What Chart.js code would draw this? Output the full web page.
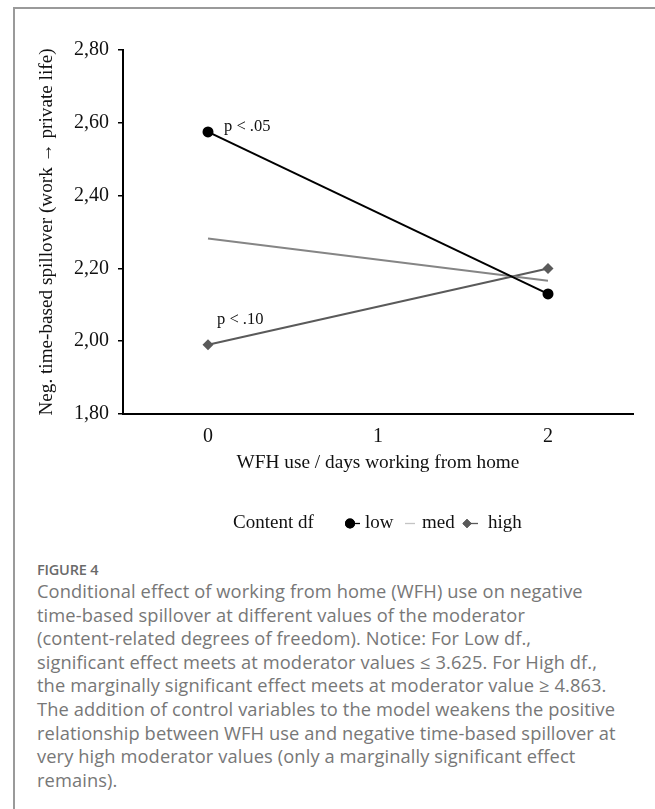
<!DOCTYPE html>
<html>
<head>
<meta charset="utf-8">
<script src="https://cdn.jsdelivr.net/npm/chart.js@4"></script>
<style>
  html, body { margin: 0; padding: 0; background: #fff; }
  body { width: 655px; height: 809px; position: relative; overflow: hidden; }
  .frame { position: absolute; left: 13px; top: 7px; right: -10px; bottom: -10px;
           border-top: 2px solid #9a9a9a; border-left: 2px solid #9a9a9a; }
  .plot { position: absolute; left: 0; top: 0; width: 655px; height: 550px; }
  .caption { position: absolute; left: 37px; top: 560px; color: #777;
             font-family: "Open Sans", Lato, sans-serif; white-space: nowrap; }
  .caption .fig { font-size: 14.5px; font-weight: 600; color: #6a6a6a; letter-spacing: -0.2px; margin-bottom: 0px; }
  .caption .txt { font-size: 18.3px; line-height: 23.6px; letter-spacing: 0.1px; }
</style>
</head>
<body>
<div class="frame"></div>
<div class="plot"><canvas id="c" width="655" height="550"></canvas></div>
<div class="caption">
  <div class="fig">FIGURE 4</div>
  <div class="txt">Conditional effect of working from home (WFH) use on negative<br>time-based spillover at different values of the moderator<br>(content-related degrees of freedom). Notice: For Low df.,<br>significant effect meets at moderator values &le; 3.625. For High df.,<br>the marginally significant effect meets at moderator value &ge; 4.863.<br>The addition of control variables to the model weakens the positive<br>relationship between WFH use and negative time-based spillover at<br>very high moderator values (only a marginally significant effect<br>remains).</div>
</div>
<script>
// data
const xLabels = ['0', '1', '2'];
const lowVals  = [2.575, null, 2.13];
const medVals  = [2.282, null, 2.166];
const highVals = [1.99, null, 2.20];
const seriesNames = ['low', 'med', 'high'];
const yTicks = { min: 1.8, max: 2.8, step: 0.2 };
const notes = [
    { text: 'p < .05', series: 0, index: 0, dx: 16, dy: -5 },
    { text: 'p < .10', series: 2, index: 0, dx: 9, dy: -25 }
];

const SERIF = "'Liberation Serif', 'Times New Roman', serif";

// p-value labels next to points
const notePlugin = {
    id: 'notes',
    afterDatasetsDraw(chart) {
        const ctx = chart.ctx, xs = chart.scales.x, ys = chart.scales.y;
        ctx.save();
        ctx.font = '16.5px ' + SERIF;
        ctx.fillStyle = '#111';
        ctx.textAlign = 'left';
        ctx.textBaseline = 'middle';
        notes.forEach(function(n) {
            const v = chart.data.datasets[n.series].data[n.index];
            ctx.fillText(n.text, xs.getPixelForValue(n.index) + n.dx, ys.getPixelForValue(v) + n.dy);
        });
        ctx.restore();
    }
};

// inline legend: "Content df  ●- low  — med ◆- high"
const legendPlugin = {
    id: 'inlineLegend',
    afterDraw(chart) {
        const ctx = chart.ctx;
        const y = 523;
        ctx.save();
        ctx.font = '19px ' + SERIF;
        ctx.fillStyle = '#111';
        ctx.textBaseline = 'middle';
        ctx.textAlign = 'left';
        ctx.fillText('Content df', 233, y);
        const spots = [{ mark: 350, seg: [346, 360], text: 365, color: '#000' },
                       { mark: null, seg: [405, 415], text: 422, color: '#c4c4c4' },
                       { mark: 467, seg: [463, 478], text: 488, color: '#5a5a5a' }];
        chart.data.datasets.forEach(function(ds, i) {
            const s = spots[i];
            ctx.strokeStyle = s.color;
            ctx.lineWidth = 1.3;
            ctx.beginPath();
            ctx.moveTo(s.seg[0], y + 0.5);
            ctx.lineTo(s.seg[1], y + 0.5);
            ctx.stroke();
            if (s.mark !== null) {
                Chart.helpers.drawPoint(ctx, {
                    pointStyle: ds.pointStyle, radius: i === 0 ? 5 : 4.5, rotation: 0, borderWidth: 0
                }, s.mark, y + 0.5);
                ctx.fillStyle = ds.pointBackgroundColor;
                ctx.fill();
            }
            ctx.fillStyle = '#111';
            ctx.fillText(seriesNames[i], s.text, y);
        });
        ctx.restore();
    }
};

new Chart(document.getElementById('c').getContext('2d'), {
    type: 'line',
    data: {
        labels: xLabels,
        datasets: [
            { label: seriesNames[0], data: lowVals, borderColor: '#000', borderWidth: 2,
              pointStyle: 'circle', pointRadius: [5.5, 0, 5.5], pointBackgroundColor: '#000', pointBorderWidth: 0, spanGaps: true },
            { label: seriesNames[1], data: medVals, borderColor: '#858585', borderWidth: 2,
              pointRadius: 0, pointBackgroundColor: '#858585', spanGaps: true },
            { label: seriesNames[2], data: highVals, borderColor: '#5a5a5a', borderWidth: 2,
              pointStyle: 'rectRot', pointRadius: [5.5, 0, 5.5], pointBackgroundColor: '#5a5a5a', pointBorderWidth: 0, spanGaps: true }
        ]
    },
    options: {
        responsive: false,
        animation: false,
        layout: { padding: { top: 50, left: 31, right: 22, bottom: 71 } },
        plugins: { legend: { display: false }, tooltip: { enabled: false } },
        scales: {
            x: {
                offset: true,
                grid: { display: false, drawTicks: false },
                border: { color: '#000', width: 2 },
                ticks: { color: '#111', font: { family: SERIF, size: 20 }, padding: 11 },
                title: { display: true, text: 'WFH use / days working from home', color: '#111',
                         font: { family: SERIF, size: 19.3 } },
                afterFit: function(s) { s.height = 65; }
            },
            y: {
                min: yTicks.min, max: yTicks.max,
                grid: { drawOnChartArea: false, drawTicks: true, tickLength: 5, color: '#000', lineWidth: 1.5 },
                border: { color: '#000', width: 2 },
                ticks: { stepSize: yTicks.step, color: '#111', padding: 9,
                         font: { family: SERIF, size: 20 },
                         callback: function(v) { return v.toFixed(2).replace('.', ','); } },
                title: { display: true, text: 'Neg. time-based spillover (work \u2192 private life)', color: '#111',
                         font: { family: SERIF, size: 19.2 } },
                afterFit: function(s) { s.width = 92; }
            }
        }
    },
    plugins: [notePlugin, legendPlugin]
});
</script>
</body>
</html>
